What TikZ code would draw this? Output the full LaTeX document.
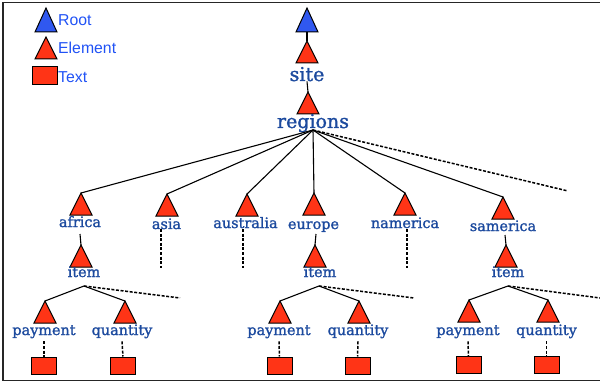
\documentclass[tikz,border=0pt]{standalone}
\usepackage{fontspec}
\newfontfamily\lblfont[FakeBold=1.4]{DejaVu Serif}
\newfontfamily\keyfont{Liberation Sans}
\definecolor{lblblue}{RGB}{28,74,158}
\definecolor{keyblue}{RGB}{32,82,245}
\definecolor{rootblue}{RGB}{48,88,240}
\definecolor{elred}{RGB}{255,52,22}
% triangle with apex at (#2,#3), height #5, filled with #4
\newcommand{\eltri}[5]{%
  \coordinate (#1) at (#2,#3);
  \draw[tri=#4] (#1) -- ++(11,#5) -- ++(-22,0) -- cycle;
  \coordinate (#1-b) at ([yshift=-#5pt]#1);
}
\begin{document}
\begin{tikzpicture}[x=1pt,y=-1pt,
  tri/.style={draw=black, line width=1pt, line join=miter, fill=#1},
  conn/.style={line width=1.1pt},
  dashconn/.style={line width=1.5pt, dash pattern=on 3pt off 1.6pt},
  lbl/.style={font=\lblfont\fontsize{14.4}{16}\selectfont, text=lblblue, inner sep=0pt, anchor=base},
  biglbl/.style={lbl, font=\lblfont\fontsize{19}{22}\selectfont},
  key/.style={font=\keyfont\fontsize{15.8}{18}\selectfont, text=keyblue, inner sep=0pt, anchor=base west},
  txtbox/.style={draw=black, line width=1pt, fill=elred, minimum width=25pt, minimum height=17pt, inner sep=0pt}]
\useasboundingbox (0,0) rectangle (600,385);

% frame
\draw[line width=1.4pt, black!85] (610,2.5) -- (3,2.5) -- (3,380.5) -- (610,380.5);

% legend
\eltri{kroot}{46}{8}{rootblue}{24}
\eltri{kelem}{46}{37}{elred}{22}
\node[txtbox, minimum height=18pt] (ktext) at (44.5,76) {};
\node[key] (kroot-t) at (58,25.5) {Root};
\node[key] (kelem-t) at (58,54) {Element};
\node[key] (ktext-t) at (58,83) {Text};

% hub and branch points
\coordinate (rg) at (313,130);
\coordinate (rgx) at (568,191);
\coordinate (ih1) at (84,286);
\coordinate (ih2) at (319,286);
\coordinate (ih3) at (508,286);
\coordinate (ix1) at (180,298);
\coordinate (ix2) at (414,298);
\coordinate (ix3) at (604,298.5);
\coordinate (afd) at (80,234);
\coordinate (eud) at (316,234);
\coordinate (sad) at (505,235);
\coordinate (as1) at (161,229);
\coordinate (as2) at (161,268);
\coordinate (au1) at (243,229);
\coordinate (au2) at (243,268);
\coordinate (na1) at (407,229);
\coordinate (na2) at (407,268);

% element triangles
\eltri{root}{307}{8}{rootblue}{24}
\eltri{site}{307}{41}{elred}{22}
\eltri{regions}{308}{92}{elred}{22}
\eltri{africa}{81}{193}{elred}{22}
\eltri{asia}{167}{194}{elred}{22}
\eltri{australia}{247}{194}{elred}{22}
\eltri{europe}{314}{193}{elred}{22}
\eltri{namerica}{405}{193}{elred}{22}
\eltri{samerica}{503}{197}{elred}{22}
\eltri{item1}{81}{245}{elred}{22}
\eltri{item2}{315}{245}{elred}{22}
\eltri{item3}{506}{245}{elred}{22}
\eltri{pay1}{45}{301}{elred}{22}
\eltri{qty1}{125}{301}{elred}{22}
\eltri{pay2}{280}{301}{elred}{22}
\eltri{qty2}{359}{301}{elred}{22}
\eltri{pay3}{469}{300}{elred}{22}
\eltri{qty3}{548}{300}{elred}{22}

% labels
\node[biglbl] (site-t) at (307,81) {site};
\node[biglbl] (regions-t) at (313,128) {regions};
\node[lbl] (africa-t) at (80,227) {africa};
\node[lbl] (asia-t) at (166.5,229) {asia};
\node[lbl] (australia-t) at (245.5,228) {australia};
\node[lbl] (europe-t) at (313.5,229) {europe};
\node[lbl] (namerica-t) at (405,228) {namerica};
\node[lbl] (samerica-t) at (503,231) {samerica};
\node[lbl] (item1-t) at (84,277) {item};
\node[lbl] (item2-t) at (320,277) {item};
\node[lbl] (item3-t) at (508,277) {item};
\node[lbl] (pay1-t) at (44,335) {payment};
\node[lbl] (qty1-t) at (122,335) {quantity};
\node[lbl] (pay2-t) at (279,335) {payment};
\node[lbl] (qty2-t) at (358,335) {quantity};
\node[lbl] (pay3-t) at (468,335) {payment};
\node[lbl] (qty3-t) at (546.5,335) {quantity};

% text leaves
\node[txtbox] (pay1-s) at (44,365.5) {};
\node[txtbox] (qty1-s) at (123,365.5) {};
\node[txtbox] (pay2-s) at (279.5,365.5) {};
\node[txtbox] (qty2-s) at (357.5,365.5) {};
\node[txtbox] (pay3-s) at (468.5,365) {};
\node[txtbox] (qty3-s) at (546.5,365) {};

% connectors
\draw[conn] (root-b) -- (site);
\draw[conn] (site-t.south) -- (regions);
\foreach \c in {africa,asia,australia,europe,namerica,samerica}
  \draw[conn] (rg) -- (\c);
\draw[dashconn] (rg) -- (rgx);
\draw[conn] (afd) -- (item1);
\draw[conn] (eud) -- (item2);
\draw[conn] (sad) -- (item3);
\draw[dashconn] (as1) -- (as2);
\draw[dashconn] (au1) -- (au2);
\draw[dashconn] (na1) -- (na2);
\draw[conn] (pay1) -- (ih1) -- (qty1);
\draw[conn] (pay2) -- (ih2) -- (qty2);
\draw[conn] (pay3) -- (ih3) -- (qty3);
\draw[dashconn] (ih1) -- (ix1);
\draw[dashconn] (ih2) -- (ix2);
\draw[dashconn] (ih3) -- (ix3);
\foreach \l in {pay1,qty1,pay2,qty2,pay3,qty3}
  \draw[dashconn] ([yshift=-3pt]\l-t.south) -- (\l-s.north);
\end{tikzpicture}
\end{document}
